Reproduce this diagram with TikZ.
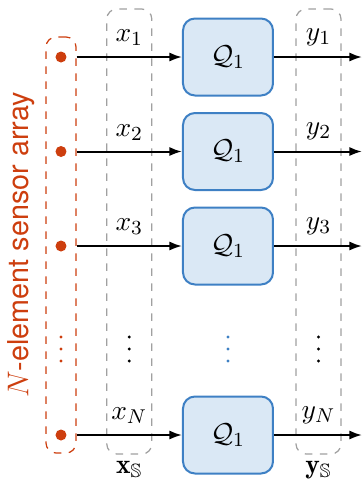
\documentclass[tikz,border=0pt]{standalone}
\usepackage{amsmath,amssymb}
\usepackage{fontspec}
\newfontfamily\arraylabfont{TeX Gyre Heros}
\usetikzlibrary{arrows.meta,positioning}
\definecolor{sensorred}{RGB}{205,62,14}
\definecolor{qblue}{RGB}{62,128,196}
\definecolor{qfill}{RGB}{218,232,245}
\definecolor{groupgray}{RGB}{160,160,160}
\begin{document}
\begin{tikzpicture}[x=0.4pt, y=-0.4pt,
    font=\fontsize{11}{13}\selectfont,
    quant/.style={draw=qblue, fill=qfill, line width=0.8pt,
      rounded corners=4.8pt, minimum width=36pt, minimum height=30.8pt},
    groupbox/.style={draw=groupgray, dashed, line width=0.5pt,
      rounded corners=4pt, minimum width=18pt, minimum height=178pt},
    arraybox/.style={draw=sensorred, dashed, line width=0.5pt,
      rounded corners=4pt, minimum width=12pt, minimum height=166.4pt},
    sensor/.style={circle, fill=sensorred, inner sep=0, minimum size=4.4pt},
    sig/.style={line width=0.8pt, -{Latex[length=5pt,width=3.6pt]}}]
  \useasboundingbox (0,0) rectangle (363,482);
  \node[arraybox] (sensors) at (61,245) {};
  \node[groupbox] (xs) at (129.3,231.5) {};
  \node[groupbox] (ys) at (318.5,231.5) {};
  \coordinate (edge) at (362,0);
  \node[rotate=90, text=sensorred, font=\arraylabfont\fontsize{11.5}{14}\selectfont]
    (arraylab) at (21,245) {$N$-element sensor array};
  \foreach \i/\y/\lab in {1/57/1, 2/151.5/2, 3/246/3, 4/435/N} {
    \node[sensor] (s\i) at (61,\y) {};
    \node[quant] (q\i) at (228,\y) {$\mathcal{Q}_1$};
    \draw[sig] (s\i -| sensors.east) -- (q\i);
    \draw[sig] (q\i) -- (q\i -| edge);
    \node[above=1pt] (x\i) at (xs |- s\i) {$x_{\lab}$};
    \node[above=1pt] (y\i) at (ys |- s\i) {$y_{\lab}$};
  }
  \foreach \x/\c in {61/sensorred, 129.3/black, 228/qblue, 318.5/black}
    \foreach \y in {337,349,361}
      \fill[\c] (\x,\y) circle (0.65pt);
  \node[below=0.3pt of xs, inner sep=2pt] (xslab) {$\mathbf{x}_{\mathbb{S}}$};
  \node[below=0.3pt of ys, inner sep=2pt] (yslab) {$\mathbf{y}_{\mathbb{S}}$};
\end{tikzpicture}
\end{document}
